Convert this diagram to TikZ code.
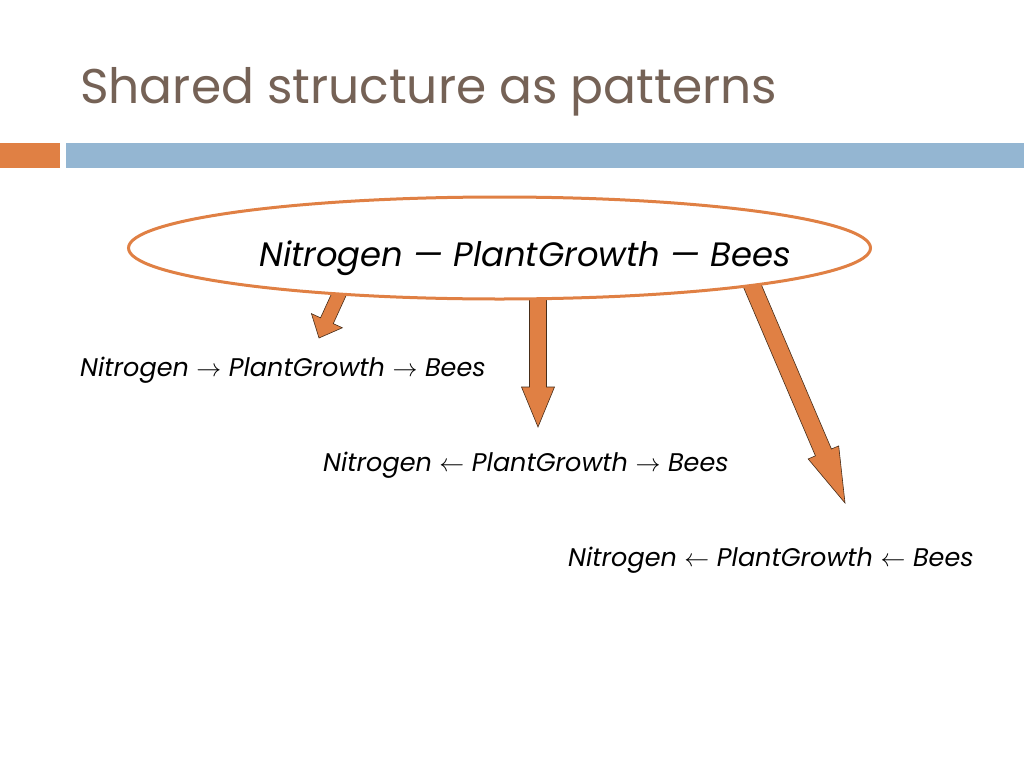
\documentclass[tikz,border=0pt]{standalone}
\usepackage{fontspec}
\setmainfont{Poppins}
\usetikzlibrary{shapes.geometric,calc}
\definecolor{accentorange}{RGB}{224,128,68}
\definecolor{accentblue}{RGB}{148,182,210}
\definecolor{titlebrown}{RGB}{117,98,86}
\definecolor{arrowedge}{RGB}{70,45,25}
% block arrow: from, to, shaft half width, head half width, head length
\newcommand{\fatarrow}[5]{%
  \coordinate (hb) at ($(#2)!#5pt!(#1)$);
  \draw[fatarrow] ($(#1)!#3pt!90:(#2)$) -- ($(hb)!#3pt!90:(#2)$) -- ($(hb)!#4pt!90:(#2)$) -- (#2)
    -- ($(hb)!#4pt!-90:(#2)$) -- ($(hb)!#3pt!-90:(#2)$) -- ($(#1)!#3pt!-90:(#2)$) -- cycle;
}
\begin{document}
\begin{tikzpicture}[
			x=1pt, y=-1pt,
			fatarrow/.style={fill=accentorange, draw=arrowedge, line width=0.6pt, line join=miter},
			pattern/.style={ellipse, draw=accentorange, line width=3pt, fill=white, minimum width=742pt, minimum height=102pt},
			linetext/.style={anchor=base west, inner sep=0pt, font=\fontsize{25.5}{30}\selectfont\itshape}
		]
		\fill[white] (0,0) rectangle (1024,768);
		\useasboundingbox (0,0) rectangle (1024,768);
		\node[anchor=base west, inner sep=0pt, text=titlebrown, font=\fontsize{48.7}{56}\selectfont] (title) at (80,103) {Shared structure as patterns};
		\fill[accentorange] (0,143) rectangle (60,168);
		\fill[accentblue] (66,143) rectangle (1024,168);
		% arrows go under the ellipse
		\coordinate (from1) at (344.6,282);
		\coordinate (tip1) at (319,338);
		\coordinate (from2) at (538,285);
		\coordinate (tip2) at (538,427);
		\coordinate (from3) at (747.7,275);
		\coordinate (tip3) at (845,503);
		\fatarrow{from1}{tip1}{7}{17}{19}
		\fatarrow{from2}{tip2}{8.5}{16.5}{40}
		\fatarrow{from3}{tip3}{8.7}{16.6}{55}
		\node[pattern] (pat) at (499.5,248) {};
		\node[anchor=base, inner sep=0pt, font=\fontsize{33.8}{40}\selectfont\itshape] (skel) at (525,266) {Nitrogen — PlantGrowth — Bees};
		\node[linetext] (chain) at (80,376) {Nitrogen $\rightarrow$ PlantGrowth $\rightarrow$ Bees};
		\node[linetext] (fork) at (323,471) {Nitrogen $\leftarrow$ PlantGrowth $\rightarrow$ Bees};
		\node[linetext] (back) at (568,566) {Nitrogen $\leftarrow$ PlantGrowth $\leftarrow$ Bees};
	\end{tikzpicture}
\end{document}
